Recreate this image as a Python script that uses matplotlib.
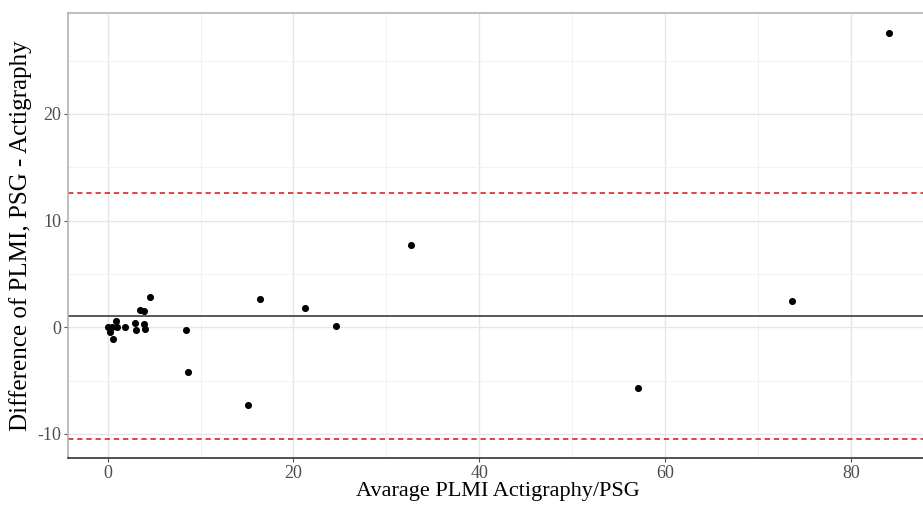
import matplotlib
matplotlib.use("Agg")
import matplotlib.pyplot as plt
from matplotlib.ticker import MultipleLocator

plt.rcParams['font.family'] = ['Liberation Serif', 'DejaVu Serif']
plt.rcParams['axes.unicode_minus'] = False

# Bland-Altman data
avg_plmi = [84.1, 73.7, 57.1, 32.6, 16.4, 21.2, 24.6, 15.1, 8.46, 8.68,
            4.59, 3.47, 3.92, 0.9, 2.94, 3.92, 0.05, 0.5, 1.0, 1.9,
            3.08, 4.0, 0.22, 0.52]
diff_plmi = [27.6, 2.44, -5.66, 7.74, 2.65, 1.78, 0.12, -7.28, -0.22, -4.16,
             2.81, 1.63, 1.55, 0.6, 0.38, 0.31, 0.03, 0.06, 0.04, 0.02,
             -0.25, -0.13, -0.45, -1.08]

mean_diff = 1.06
upper_loa = 12.56
lower_loa = -10.44

fig = plt.figure(figsize=(9.23, 5.07), dpi=100)
W, H = 923, 507
ax = fig.add_axes([68 / W, 49 / H, (928 - 68) / W, (458 - 13) / H])

ax.scatter(avg_plmi, diff_plmi, s=26, color='black', zorder=3, linewidths=0)
ax.axhline(mean_diff, color='#4a4a4a', lw=1.3, zorder=2)
ax.axhline(upper_loa, color='#dd1111', lw=1.1, ls=(0, (3.5, 2.5)), zorder=2)
ax.axhline(lower_loa, color='#dd1111', lw=1.1, ls=(0, (3.5, 2.5)), zorder=2)

ax.set_xlim(-4.27, 88.3)
ax.set_ylim(-12.25, 29.46)

ax.xaxis.set_major_locator(MultipleLocator(20))
ax.xaxis.set_minor_locator(MultipleLocator(10))
ax.yaxis.set_major_locator(MultipleLocator(10))
ax.yaxis.set_minor_locator(MultipleLocator(5))

ax.grid(which='major', color='#e6e6e6', lw=1.0, zorder=0)
ax.grid(which='minor', color='#f0f0f0', lw=0.6, zorder=0)
ax.set_axisbelow(True)

for side in ['top', 'left', 'right']:
    ax.spines[side].set_color('#b3b3b3')
    ax.spines[side].set_linewidth(1.2)
ax.spines['bottom'].set_color('#333333')
ax.spines['bottom'].set_linewidth(1.2)

ax.tick_params(which='major', length=3, width=0.8, color='#555555',
               labelcolor='#4d4d4d', labelsize=13, pad=2)
ax.tick_params(which='minor', length=0)

ax.set_xlabel('Avarage PLMI Actigraphy/PSG', fontsize=16, labelpad=0)
ax.set_ylabel('Difference of PLMI, PSG - Actigraphy', fontsize=18, labelpad=4)

fig.savefig('out.png', dpi=100)
